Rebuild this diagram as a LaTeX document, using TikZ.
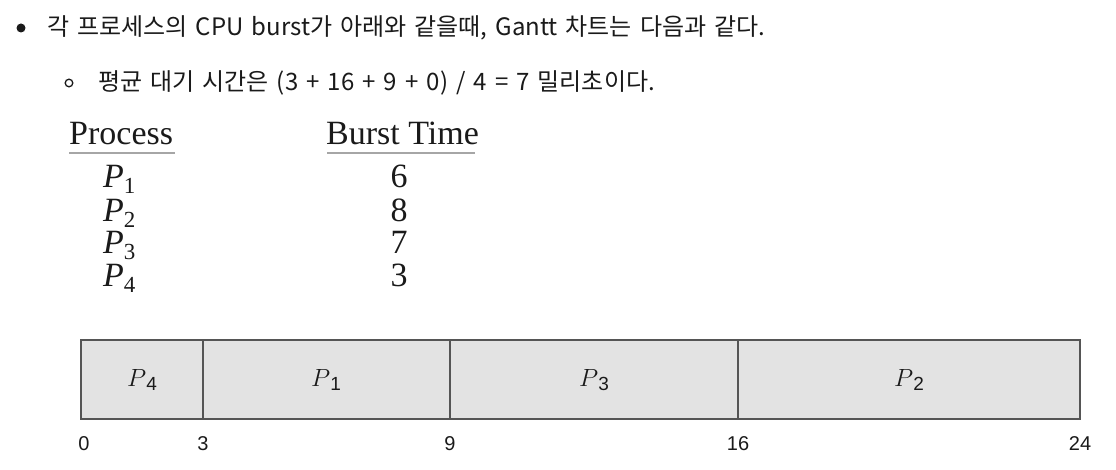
\documentclass[tikz,border=0pt]{standalone}
\usepackage{fontspec}
\newfontfamily\kofont[WordSpace=1.5]{Noto Sans CJK KR}
\newfontfamily\sansnum{Liberation Sans}
\newfontfamily\tabfont{Liberation Serif}
\definecolor{barfill}{HTML}{E3E3E3}
\definecolor{barline}{HTML}{555555}
\definecolor{txt}{HTML}{1A1A1A}
\begin{document}
\begin{tikzpicture}[x=1pt,y=-1pt,
  kotext/.style={anchor=west,inner sep=0pt,font=\kofont\fontsize{24}{27}\selectfont,text=txt},
  tabhead/.style={anchor=base west,inner sep=0pt,font=\tabfont\fontsize{34}{38}\selectfont,text=txt},
  tabcell/.style={anchor=base,inner sep=0pt,font=\tabfont\fontsize{34}{38}\selectfont,text=txt},
  proc/.style={anchor=base west,inner sep=0pt,font=\tabfont\fontsize{34}{38}\selectfont,text=txt},
  bar/.style={draw=barline,fill=barfill,line width=1.2pt},
  sep/.style={draw=barline,line width=1.2pt},
  glabel/.style={inner sep=0pt,font=\fontsize{25}{28}\selectfont,text=txt},
  tick/.style={anchor=base,inner sep=0pt,font=\sansnum\fontsize{20}{22}\selectfont,text=txt},
  uline/.style={draw=gray!70,line width=2pt}]
\useasboundingbox (0,0) rectangle (1116,470);
% bullets and Korean text
\fill[txt] (21,28) circle (4.5);
\node[kotext] (l1) at (47,28) {각 프로세스의 CPU burst가 아래와 같을때, Gantt 차트는 다음과 같다.};
\draw[txt,line width=1.3pt] (69,83) circle (3.8);
\node[kotext] (l2) at (98,83) {평균 대기 시간은 (3 + 16 + 9 + 0) / 4 = 7 밀리초이다.};
% table
\node[tabhead] (hp) at (69,145) {Process};
\node[tabhead] (hb) at (326,145) {Burst Time};
\draw[uline] (hp.south west) ++(0,7) coordinate (u1a) -- ++(106,0) coordinate (u1b);
\draw[uline] (hb.south west) ++(1,7) coordinate (u2a) -- ++(148,0) coordinate (u2b);
\foreach \i/\b/\y in {1/6/188,2/8/222,3/7/254,4/3/287}{
  \node[proc] (p\i) at (103,\y) {\textit{P}\raisebox{-6pt}{\fontsize{23}{24}\selectfont\i}};
  \node[tabcell] (b\i) at (399,\y) {\b};
}
% Gantt chart
\coordinate (g0) at (81,340);
\coordinate (g3) at (203,340);
\coordinate (g9) at (450,340);
\coordinate (g16) at (738,340);
\coordinate (g24) at (1080,340);
\draw[bar] (g0) rectangle (1080,419);
\foreach \c in {g3,g9,g16}{\draw[sep] (\c) -- ++(0,79);}
\node[glabel] (lp4) at (142,380) {$P$\raisebox{-4pt}{\sansnum\fontsize{19}{20}\selectfont 4}};
\node[glabel] (lp1) at (326,380) {$P$\raisebox{-4pt}{\sansnum\fontsize{19}{20}\selectfont 1}};
\node[glabel] (lp3) at (594,380) {$P$\raisebox{-4pt}{\sansnum\fontsize{19}{20}\selectfont 3}};
\node[glabel] (lp2) at (909,380) {$P$\raisebox{-4pt}{\sansnum\fontsize{19}{20}\selectfont 2}};
\node[tick] (t0) at (84,450) {0};
\node[tick] (t3) at (203,450) {3};
\node[tick] (t9) at (450,450) {9};
\node[tick] (t16) at (738,450) {16};
\node[tick] (t24) at (1080,450) {24};
\end{tikzpicture}
\end{document}
